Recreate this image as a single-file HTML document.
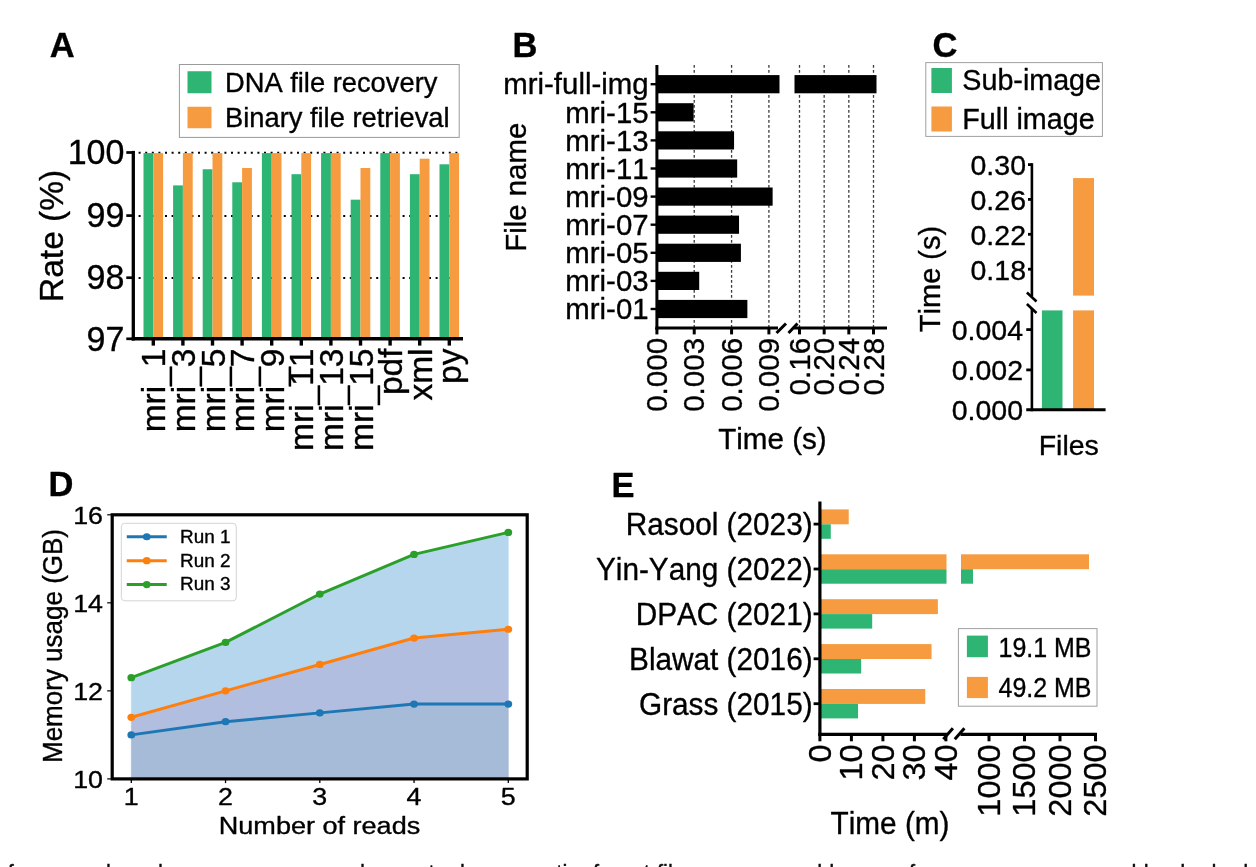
<!DOCTYPE html>
<html><head><meta charset="utf-8"><title>Figure</title>
<style>
html,body{margin:0;padding:0;background:#fff;overflow:hidden}
svg{display:block;font-family:"Liberation Sans",sans-serif;font-kerning:none}
text{stroke:#000;stroke-width:0.35px;stroke-linejoin:round}
</style></head>
<body>
<svg width="1256" height="867" viewBox="0 0 1256 867">
<defs><filter id="soft" x="0" y="0" width="100%" height="100%" filterUnits="userSpaceOnUse"><feGaussianBlur stdDeviation="0.45"/></filter></defs>
<rect x="0" y="0" width="1256" height="867" fill="#fff"/>
<g filter="url(#soft)">
<rect x="-10" y="-10" width="1276" height="900" fill="#fff"/>
<text transform="translate(49.80 56.50)" font-size="34.5" text-anchor="start" font-weight="bold" fill="#000" >A</text>
<text transform="translate(512.50 56.70)" font-size="34.5" text-anchor="start" font-weight="bold" fill="#000" >B</text>
<text transform="translate(932.40 57.00)" font-size="34.5" text-anchor="start" font-weight="bold" fill="#000" >C</text>
<text transform="translate(48.50 495.80)" font-size="34.5" text-anchor="start" font-weight="bold" fill="#000" >D</text>
<text transform="translate(611.40 497.20)" font-size="34.5" text-anchor="start" font-weight="bold" fill="#000" >E</text>
<line x1="138.60" y1="152.80" x2="459.00" y2="152.80" stroke="#000" stroke-width="2" stroke-dasharray="2 4.6"/>
<line x1="138.60" y1="215.90" x2="459.00" y2="215.90" stroke="#000" stroke-width="2" stroke-dasharray="2 4.6"/>
<line x1="138.60" y1="278.00" x2="459.00" y2="278.00" stroke="#000" stroke-width="2" stroke-dasharray="2 4.6"/>
<rect x="143.50" y="153.10" width="9.80" height="185.70" fill="#2db473" />
<rect x="153.30" y="153.10" width="9.80" height="185.70" fill="#f79b3f" />
<rect x="173.10" y="185.39" width="9.80" height="153.41" fill="#2db473" />
<rect x="182.90" y="153.10" width="9.80" height="185.70" fill="#f79b3f" />
<rect x="202.70" y="169.25" width="9.80" height="169.55" fill="#2db473" />
<rect x="212.50" y="153.10" width="9.80" height="185.70" fill="#f79b3f" />
<rect x="232.30" y="182.29" width="9.80" height="156.51" fill="#2db473" />
<rect x="242.10" y="168.00" width="9.80" height="170.80" fill="#f79b3f" />
<rect x="261.90" y="153.10" width="9.80" height="185.70" fill="#2db473" />
<rect x="271.70" y="153.10" width="9.80" height="185.70" fill="#f79b3f" />
<rect x="291.50" y="174.21" width="9.80" height="164.59" fill="#2db473" />
<rect x="301.30" y="153.10" width="9.80" height="185.70" fill="#f79b3f" />
<rect x="321.10" y="153.10" width="9.80" height="185.70" fill="#2db473" />
<rect x="330.90" y="153.10" width="9.80" height="185.70" fill="#f79b3f" />
<rect x="350.70" y="199.68" width="9.80" height="139.12" fill="#2db473" />
<rect x="360.50" y="168.00" width="9.80" height="170.80" fill="#f79b3f" />
<rect x="380.30" y="153.10" width="9.80" height="185.70" fill="#2db473" />
<rect x="390.10" y="153.10" width="9.80" height="185.70" fill="#f79b3f" />
<rect x="409.90" y="174.21" width="9.80" height="164.59" fill="#2db473" />
<rect x="419.70" y="158.69" width="9.80" height="180.11" fill="#f79b3f" />
<rect x="439.50" y="164.28" width="9.80" height="174.52" fill="#2db473" />
<rect x="449.30" y="153.10" width="9.80" height="185.70" fill="#f79b3f" />
<line x1="133.30" y1="150.90" x2="133.30" y2="340.50" stroke="#000" stroke-width="3.3" />
<line x1="131.70" y1="338.80" x2="463.00" y2="338.80" stroke="#000" stroke-width="3.5" />
<line x1="126.30" y1="152.50" x2="133.30" y2="152.50" stroke="#000" stroke-width="2.7" />
<text transform="translate(124.40 163.70) scale(1 1.05)" font-size="34" text-anchor="end" fill="#000" >100</text>
<line x1="126.30" y1="215.60" x2="133.30" y2="215.60" stroke="#000" stroke-width="2.7" />
<text transform="translate(124.40 227.20) scale(1 1.05)" font-size="34" text-anchor="end" fill="#000" >99</text>
<line x1="126.30" y1="277.70" x2="133.30" y2="277.70" stroke="#000" stroke-width="2.7" />
<text transform="translate(124.40 289.30) scale(1 1.05)" font-size="34" text-anchor="end" fill="#000" >98</text>
<line x1="126.30" y1="338.80" x2="133.30" y2="338.80" stroke="#000" stroke-width="2.7" />
<text transform="translate(124.40 351.40) scale(1 1.05)" font-size="34" text-anchor="end" fill="#000" >97</text>
<line x1="153.30" y1="338.80" x2="153.30" y2="345.60" stroke="#000" stroke-width="3.4" />
<text transform="translate(165.30 348.50) rotate(-90)" font-size="33.5" text-anchor="end" fill="#000" >mri_1</text>
<line x1="182.90" y1="338.80" x2="182.90" y2="345.60" stroke="#000" stroke-width="3.4" />
<text transform="translate(194.90 348.50) rotate(-90)" font-size="33.5" text-anchor="end" fill="#000" >mri_3</text>
<line x1="212.50" y1="338.80" x2="212.50" y2="345.60" stroke="#000" stroke-width="3.4" />
<text transform="translate(224.50 348.50) rotate(-90)" font-size="33.5" text-anchor="end" fill="#000" >mri_5</text>
<line x1="242.10" y1="338.80" x2="242.10" y2="345.60" stroke="#000" stroke-width="3.4" />
<text transform="translate(254.10 348.50) rotate(-90)" font-size="33.5" text-anchor="end" fill="#000" >mri_7</text>
<line x1="271.70" y1="338.80" x2="271.70" y2="345.60" stroke="#000" stroke-width="3.4" />
<text transform="translate(283.70 348.50) rotate(-90)" font-size="33.5" text-anchor="end" fill="#000" >mri_9</text>
<line x1="301.30" y1="338.80" x2="301.30" y2="345.60" stroke="#000" stroke-width="3.4" />
<text transform="translate(313.30 348.50) rotate(-90)" font-size="33.5" text-anchor="end" fill="#000" >mri_11</text>
<line x1="330.90" y1="338.80" x2="330.90" y2="345.60" stroke="#000" stroke-width="3.4" />
<text transform="translate(342.90 348.50) rotate(-90)" font-size="33.5" text-anchor="end" fill="#000" >mri_13</text>
<line x1="360.50" y1="338.80" x2="360.50" y2="345.60" stroke="#000" stroke-width="3.4" />
<text transform="translate(372.50 348.50) rotate(-90)" font-size="33.5" text-anchor="end" fill="#000" >mri_15</text>
<line x1="390.10" y1="338.80" x2="390.10" y2="345.60" stroke="#000" stroke-width="3.4" />
<text transform="translate(402.10 348.50) rotate(-90)" font-size="33.5" text-anchor="end" fill="#000" >pdf</text>
<line x1="419.70" y1="338.80" x2="419.70" y2="345.60" stroke="#000" stroke-width="3.4" />
<text transform="translate(431.70 348.50) rotate(-90)" font-size="33.5" text-anchor="end" fill="#000" >xml</text>
<line x1="449.30" y1="338.80" x2="449.30" y2="345.60" stroke="#000" stroke-width="3.4" />
<text transform="translate(461.30 348.50) rotate(-90)" font-size="33.5" text-anchor="end" fill="#000" >py</text>
<text transform="translate(63.00 302.00) rotate(-90)" font-size="33.5" text-anchor="start" fill="#000" >Rate (%)</text>
<rect x="179.40" y="64.50" width="279.80" height="72.90" fill="#fff" stroke="#9a9a9a" stroke-width="1"/>
<rect x="187.50" y="71.25" width="24.00" height="22.00" fill="#2db473" />
<rect x="187.50" y="106.75" width="24.00" height="21.50" fill="#f79b3f" />
<text transform="translate(225.00 92.00)" font-size="27.3" text-anchor="start" fill="#000" >DNA file recovery</text>
<text transform="translate(225.00 127.00)" font-size="27.3" text-anchor="start" fill="#000" >Binary file retrieval</text>
<line x1="694.23" y1="65.00" x2="694.23" y2="327.90" stroke="#3a3a3a" stroke-width="1.3" stroke-dasharray="2.8 2.2"/>
<line x1="731.57" y1="65.00" x2="731.57" y2="327.90" stroke="#3a3a3a" stroke-width="1.3" stroke-dasharray="2.8 2.2"/>
<line x1="768.90" y1="65.00" x2="768.90" y2="327.90" stroke="#3a3a3a" stroke-width="1.3" stroke-dasharray="2.8 2.2"/>
<line x1="799.50" y1="65.00" x2="799.50" y2="327.90" stroke="#3a3a3a" stroke-width="1.3" stroke-dasharray="2.8 2.2"/>
<line x1="824.17" y1="65.00" x2="824.17" y2="327.90" stroke="#3a3a3a" stroke-width="1.3" stroke-dasharray="2.8 2.2"/>
<line x1="848.83" y1="65.00" x2="848.83" y2="327.90" stroke="#3a3a3a" stroke-width="1.3" stroke-dasharray="2.8 2.2"/>
<line x1="873.50" y1="65.00" x2="873.50" y2="327.90" stroke="#3a3a3a" stroke-width="1.3" stroke-dasharray="2.8 2.2"/>
<rect x="656.90" y="75.10" width="122.60" height="18.20" fill="#000" />
<rect x="794.50" y="75.10" width="82.00" height="18.20" fill="#000" />
<line x1="650.60" y1="84.20" x2="656.90" y2="84.20" stroke="#000" stroke-width="2.4" />
<text transform="translate(648.60 94.40)" font-size="29.4" text-anchor="end" fill="#000" >mri-full-img</text>
<rect x="656.90" y="103.20" width="36.71" height="18.20" fill="#000" />
<line x1="650.60" y1="112.30" x2="656.90" y2="112.30" stroke="#000" stroke-width="2.4" />
<text transform="translate(648.60 122.50)" font-size="29.4" text-anchor="end" fill="#000" >mri-15</text>
<rect x="656.90" y="131.30" width="77.16" height="18.20" fill="#000" />
<line x1="650.60" y1="140.40" x2="656.90" y2="140.40" stroke="#000" stroke-width="2.4" />
<text transform="translate(648.60 150.60)" font-size="29.4" text-anchor="end" fill="#000" >mri-13</text>
<rect x="656.90" y="159.40" width="80.27" height="18.20" fill="#000" />
<line x1="650.60" y1="168.50" x2="656.90" y2="168.50" stroke="#000" stroke-width="2.4" />
<text transform="translate(648.60 178.70)" font-size="29.4" text-anchor="end" fill="#000" >mri-11</text>
<rect x="656.90" y="187.50" width="115.73" height="18.20" fill="#000" />
<line x1="650.60" y1="196.60" x2="656.90" y2="196.60" stroke="#000" stroke-width="2.4" />
<text transform="translate(648.60 206.80)" font-size="29.4" text-anchor="end" fill="#000" >mri-09</text>
<rect x="656.90" y="215.60" width="82.13" height="18.20" fill="#000" />
<line x1="650.60" y1="224.70" x2="656.90" y2="224.70" stroke="#000" stroke-width="2.4" />
<text transform="translate(648.60 234.90)" font-size="29.4" text-anchor="end" fill="#000" >mri-07</text>
<rect x="656.90" y="243.70" width="84.00" height="18.20" fill="#000" />
<line x1="650.60" y1="252.80" x2="656.90" y2="252.80" stroke="#000" stroke-width="2.4" />
<text transform="translate(648.60 263.00)" font-size="29.4" text-anchor="end" fill="#000" >mri-05</text>
<rect x="656.90" y="271.80" width="42.31" height="18.20" fill="#000" />
<line x1="650.60" y1="280.90" x2="656.90" y2="280.90" stroke="#000" stroke-width="2.4" />
<text transform="translate(648.60 291.10)" font-size="29.4" text-anchor="end" fill="#000" >mri-03</text>
<rect x="656.90" y="299.90" width="90.47" height="18.20" fill="#000" />
<line x1="650.60" y1="309.00" x2="656.90" y2="309.00" stroke="#000" stroke-width="2.4" />
<text transform="translate(648.60 319.20)" font-size="29.4" text-anchor="end" fill="#000" >mri-01</text>
<line x1="656.90" y1="65.00" x2="656.90" y2="329.40" stroke="#000" stroke-width="3" />
<line x1="655.40" y1="327.90" x2="778.00" y2="327.90" stroke="#000" stroke-width="3" />
<line x1="794.00" y1="327.90" x2="887.00" y2="327.90" stroke="#000" stroke-width="3" />
<line x1="776.50" y1="333.00" x2="786.00" y2="323.50" stroke="#000" stroke-width="3" />
<line x1="788.50" y1="333.00" x2="797.50" y2="323.50" stroke="#000" stroke-width="3" />
<line x1="656.90" y1="327.90" x2="656.90" y2="334.40" stroke="#000" stroke-width="3" />
<text transform="translate(666.90 337.80) rotate(-90)" font-size="29.6" text-anchor="end" fill="#000" >0.000</text>
<line x1="694.23" y1="327.90" x2="694.23" y2="334.40" stroke="#000" stroke-width="3" />
<text transform="translate(704.23 337.80) rotate(-90)" font-size="29.6" text-anchor="end" fill="#000" >0.003</text>
<line x1="731.57" y1="327.90" x2="731.57" y2="334.40" stroke="#000" stroke-width="3" />
<text transform="translate(741.57 337.80) rotate(-90)" font-size="29.6" text-anchor="end" fill="#000" >0.006</text>
<line x1="768.90" y1="327.90" x2="768.90" y2="334.40" stroke="#000" stroke-width="3" />
<text transform="translate(778.90 337.80) rotate(-90)" font-size="29.6" text-anchor="end" fill="#000" >0.009</text>
<line x1="799.50" y1="327.90" x2="799.50" y2="334.40" stroke="#000" stroke-width="3" />
<text transform="translate(809.50 337.80) rotate(-90)" font-size="29.6" text-anchor="end" fill="#000" >0.16</text>
<line x1="824.17" y1="327.90" x2="824.17" y2="334.40" stroke="#000" stroke-width="3" />
<text transform="translate(834.17 337.80) rotate(-90)" font-size="29.6" text-anchor="end" fill="#000" >0.20</text>
<line x1="848.83" y1="327.90" x2="848.83" y2="334.40" stroke="#000" stroke-width="3" />
<text transform="translate(858.83 337.80) rotate(-90)" font-size="29.6" text-anchor="end" fill="#000" >0.24</text>
<line x1="873.50" y1="327.90" x2="873.50" y2="334.40" stroke="#000" stroke-width="3" />
<text transform="translate(883.50 337.80) rotate(-90)" font-size="29.6" text-anchor="end" fill="#000" >0.28</text>
<text transform="translate(772.40 449.40)" font-size="29.6" text-anchor="middle" fill="#000" >Time (s)</text>
<text transform="translate(525.60 187.30) rotate(-90)" font-size="29.4" text-anchor="middle" fill="#000" >File name</text>
<rect x="925.80" y="62.60" width="176.60" height="73.80" fill="#fff" stroke="#a0a0a0" stroke-width="1"/>
<rect x="931.40" y="68.00" width="20.50" height="25.00" fill="#2db473" />
<rect x="931.40" y="106.50" width="20.50" height="25.00" fill="#f79b3f" />
<text transform="translate(962.30 89.80)" font-size="28.7" text-anchor="start" fill="#000" >Sub-image</text>
<text transform="translate(962.30 128.80)" font-size="28.7" text-anchor="start" fill="#000" >Full image</text>
<rect x="1041.90" y="310.40" width="20.60" height="99.35" fill="#2db473" />
<rect x="1073.10" y="178.10" width="20.90" height="117.50" fill="#f79b3f" />
<rect x="1073.10" y="310.40" width="20.90" height="99.35" fill="#f79b3f" />
<line x1="1031.90" y1="163.20" x2="1031.90" y2="296.50" stroke="#000" stroke-width="2.6" />
<line x1="1031.90" y1="308.50" x2="1031.90" y2="411.25" stroke="#000" stroke-width="2.6" />
<line x1="1026.25" y1="409.75" x2="1105.60" y2="409.75" stroke="#000" stroke-width="3.2" />
<line x1="1026.90" y1="292.50" x2="1036.50" y2="301.50" stroke="#000" stroke-width="2.6" />
<line x1="1026.90" y1="304.00" x2="1036.50" y2="313.00" stroke="#000" stroke-width="2.6" />
<line x1="1028.00" y1="164.60" x2="1031.90" y2="164.60" stroke="#000" stroke-width="2.8" />
<text transform="translate(1026.00 174.90)" font-size="28.5" text-anchor="end" fill="#000" >0.30</text>
<line x1="1028.00" y1="199.40" x2="1031.90" y2="199.40" stroke="#000" stroke-width="2.8" />
<text transform="translate(1026.00 209.70)" font-size="28.5" text-anchor="end" fill="#000" >0.26</text>
<line x1="1028.00" y1="234.30" x2="1031.90" y2="234.30" stroke="#000" stroke-width="2.8" />
<text transform="translate(1026.00 244.60)" font-size="28.5" text-anchor="end" fill="#000" >0.22</text>
<line x1="1028.00" y1="269.20" x2="1031.90" y2="269.20" stroke="#000" stroke-width="2.8" />
<text transform="translate(1026.00 279.50)" font-size="28.5" text-anchor="end" fill="#000" >0.18</text>
<line x1="1026.25" y1="329.60" x2="1031.90" y2="329.60" stroke="#000" stroke-width="2.8" />
<text transform="translate(1023.00 339.90)" font-size="28.5" text-anchor="end" fill="#000" >0.004</text>
<line x1="1026.25" y1="369.90" x2="1031.90" y2="369.90" stroke="#000" stroke-width="2.8" />
<text transform="translate(1023.00 380.20)" font-size="28.5" text-anchor="end" fill="#000" >0.002</text>
<text transform="translate(1023.00 420.05)" font-size="28.5" text-anchor="end" fill="#000" >0.000</text>
<text transform="translate(1068.75 454.75)" font-size="28.5" text-anchor="middle" fill="#000" >Files</text>
<text transform="translate(940.00 225.80) rotate(-90)" font-size="29" text-anchor="end" fill="#000" >Time (s)</text>
<polygon points="131.30,677.66 225.55,642.45 319.80,594.03 414.05,554.41 508.30,532.41 508.30,629.24 414.05,638.05 319.80,664.46 225.55,690.87 131.30,717.28" fill="#b6d6ee" stroke="#b6d6ee" stroke-width="0.6"/>
<polygon points="131.30,717.28 225.55,690.87 319.80,664.46 414.05,638.05 508.30,629.24 508.30,704.07 414.05,704.07 319.80,712.88 225.55,721.68 131.30,734.88" fill="#b2bedf" stroke="#b2bedf" stroke-width="0.6"/>
<polygon points="131.30,734.88 225.55,721.68 319.80,712.88 414.05,704.07 508.30,704.07 508.30,778.9 131.30,778.9" fill="#a5bbd8" stroke="#a5bbd8" stroke-width="0.6"/>
<polyline points="131.30,734.88 225.55,721.68 319.80,712.88 414.05,704.07 508.30,704.07" fill="none" stroke="#1f77b4" stroke-width="3" stroke-linejoin="round"/>
<ellipse cx="131.30" cy="734.88" rx="3.9" ry="3.6" fill="#1f77b4"/>
<ellipse cx="225.55" cy="721.68" rx="3.9" ry="3.6" fill="#1f77b4"/>
<ellipse cx="319.80" cy="712.88" rx="3.9" ry="3.6" fill="#1f77b4"/>
<ellipse cx="414.05" cy="704.07" rx="3.9" ry="3.6" fill="#1f77b4"/>
<ellipse cx="508.30" cy="704.07" rx="3.9" ry="3.6" fill="#1f77b4"/>
<polyline points="131.30,717.28 225.55,690.87 319.80,664.46 414.05,638.05 508.30,629.24" fill="none" stroke="#ff7f0e" stroke-width="3" stroke-linejoin="round"/>
<ellipse cx="131.30" cy="717.28" rx="3.9" ry="3.6" fill="#ff7f0e"/>
<ellipse cx="225.55" cy="690.87" rx="3.9" ry="3.6" fill="#ff7f0e"/>
<ellipse cx="319.80" cy="664.46" rx="3.9" ry="3.6" fill="#ff7f0e"/>
<ellipse cx="414.05" cy="638.05" rx="3.9" ry="3.6" fill="#ff7f0e"/>
<ellipse cx="508.30" cy="629.24" rx="3.9" ry="3.6" fill="#ff7f0e"/>
<polyline points="131.30,677.66 225.55,642.45 319.80,594.03 414.05,554.41 508.30,532.41" fill="none" stroke="#2ca02c" stroke-width="3" stroke-linejoin="round"/>
<ellipse cx="131.30" cy="677.66" rx="3.9" ry="3.6" fill="#2ca02c"/>
<ellipse cx="225.55" cy="642.45" rx="3.9" ry="3.6" fill="#2ca02c"/>
<ellipse cx="319.80" cy="594.03" rx="3.9" ry="3.6" fill="#2ca02c"/>
<ellipse cx="414.05" cy="554.41" rx="3.9" ry="3.6" fill="#2ca02c"/>
<ellipse cx="508.30" cy="532.41" rx="3.9" ry="3.6" fill="#2ca02c"/>
<rect x="112.2" y="514.8" width="415.00" height="264.10" fill="none" stroke="#000" stroke-width="3.2"/>
<line x1="131.30" y1="778.90" x2="131.30" y2="783.10" stroke="#000" stroke-width="1.3" />
<text transform="translate(131.30 804.80) scale(1.09 1)" font-size="24.6" text-anchor="middle" fill="#000" >1</text>
<line x1="225.55" y1="778.90" x2="225.55" y2="783.10" stroke="#000" stroke-width="1.3" />
<text transform="translate(225.55 804.80) scale(1.09 1)" font-size="24.6" text-anchor="middle" fill="#000" >2</text>
<line x1="319.80" y1="778.90" x2="319.80" y2="783.10" stroke="#000" stroke-width="1.3" />
<text transform="translate(319.80 804.80) scale(1.09 1)" font-size="24.6" text-anchor="middle" fill="#000" >3</text>
<line x1="414.05" y1="778.90" x2="414.05" y2="783.10" stroke="#000" stroke-width="1.3" />
<text transform="translate(414.05 804.80) scale(1.09 1)" font-size="24.6" text-anchor="middle" fill="#000" >4</text>
<line x1="508.30" y1="778.90" x2="508.30" y2="783.10" stroke="#000" stroke-width="1.3" />
<text transform="translate(508.30 804.80) scale(1.09 1)" font-size="24.6" text-anchor="middle" fill="#000" >5</text>
<line x1="107.20" y1="778.90" x2="112.20" y2="778.90" stroke="#000" stroke-width="1.2" />
<text transform="translate(103.00 788.10) scale(1.09 1)" font-size="24.6" text-anchor="end" fill="#000" >10</text>
<line x1="107.20" y1="690.87" x2="112.20" y2="690.87" stroke="#000" stroke-width="1.2" />
<text transform="translate(103.00 700.07) scale(1.09 1)" font-size="24.6" text-anchor="end" fill="#000" >12</text>
<line x1="107.20" y1="602.83" x2="112.20" y2="602.83" stroke="#000" stroke-width="1.2" />
<text transform="translate(103.00 612.03) scale(1.09 1)" font-size="24.6" text-anchor="end" fill="#000" >14</text>
<line x1="107.20" y1="514.80" x2="112.20" y2="514.80" stroke="#000" stroke-width="1.2" />
<text transform="translate(103.00 524.00) scale(1.09 1)" font-size="24.6" text-anchor="end" fill="#000" >16</text>
<text transform="translate(319.50 833.80) scale(1.1 1)" font-size="24.6" text-anchor="middle" fill="#000" >Number of reads</text>
<text transform="translate(62.30 646.00) scale(1.06 1) rotate(-90)" font-size="26" text-anchor="middle" fill="#000" >Memory usage (GB)</text>
<rect x="121.3" y="523.3" width="115" height="77.5" rx="3.5" fill="#fff" fill-opacity="0.8" stroke="#d4d4d4" stroke-width="1"/>
<line x1="126.75" y1="536.75" x2="166.75" y2="536.75" stroke="#1f77b4" stroke-width="3" />
<ellipse cx="146.75" cy="536.75" rx="3.9" ry="3.6" fill="#1f77b4"/>
<text transform="translate(180.00 542.65) scale(1.08 1)" font-size="17.5" text-anchor="start" fill="#000" >Run 1</text>
<line x1="126.75" y1="560.65" x2="166.75" y2="560.65" stroke="#ff7f0e" stroke-width="3" />
<ellipse cx="146.75" cy="560.65" rx="3.9" ry="3.6" fill="#ff7f0e"/>
<text transform="translate(180.00 566.55) scale(1.08 1)" font-size="17.5" text-anchor="start" fill="#000" >Run 2</text>
<line x1="126.75" y1="584.55" x2="166.75" y2="584.55" stroke="#2ca02c" stroke-width="3" />
<ellipse cx="146.75" cy="584.55" rx="3.9" ry="3.6" fill="#2ca02c"/>
<text transform="translate(180.00 590.45) scale(1.08 1)" font-size="17.5" text-anchor="start" fill="#000" >Run 3</text>
<rect x="819.90" y="509.40" width="28.82" height="14.90" fill="#f79b3f" />
<rect x="819.90" y="524.30" width="10.87" height="14.50" fill="#2db473" />
<line x1="813.60" y1="524.10" x2="819.90" y2="524.10" stroke="#000" stroke-width="2.8" />
<text transform="translate(812.60 535.30) scale(0.96 1)" font-size="31" text-anchor="end" fill="#000" >Rasool (2023)</text>
<rect x="819.90" y="554.30" width="126.60" height="14.90" fill="#f79b3f" />
<rect x="961.00" y="554.30" width="128.00" height="14.90" fill="#f79b3f" />
<rect x="819.90" y="569.20" width="126.60" height="14.50" fill="#2db473" />
<rect x="961.00" y="569.20" width="12.00" height="14.50" fill="#2db473" />
<line x1="813.60" y1="569.00" x2="819.90" y2="569.00" stroke="#000" stroke-width="2.8" />
<text transform="translate(812.60 580.20) scale(0.96 1)" font-size="31" text-anchor="end" fill="#000" >Yin-Yang (2022)</text>
<rect x="819.90" y="599.20" width="117.97" height="14.90" fill="#f79b3f" />
<rect x="819.90" y="614.10" width="52.29" height="14.50" fill="#2db473" />
<line x1="813.60" y1="613.90" x2="819.90" y2="613.90" stroke="#000" stroke-width="2.8" />
<text transform="translate(812.60 625.10) scale(0.96 1)" font-size="31" text-anchor="end" fill="#000" >DPAC (2021)</text>
<rect x="819.90" y="644.10" width="111.67" height="14.90" fill="#f79b3f" />
<rect x="819.90" y="659.00" width="41.26" height="14.50" fill="#2db473" />
<line x1="813.60" y1="658.80" x2="819.90" y2="658.80" stroke="#000" stroke-width="2.8" />
<text transform="translate(812.60 670.00) scale(0.96 1)" font-size="31" text-anchor="end" fill="#000" >Blawat (2016)</text>
<rect x="819.90" y="689.00" width="105.37" height="14.90" fill="#f79b3f" />
<rect x="819.90" y="703.90" width="38.12" height="14.50" fill="#2db473" />
<line x1="813.60" y1="703.70" x2="819.90" y2="703.70" stroke="#000" stroke-width="2.8" />
<text transform="translate(812.60 714.90) scale(0.96 1)" font-size="31" text-anchor="end" fill="#000" >Grass (2015)</text>
<line x1="819.90" y1="501.50" x2="819.90" y2="735.90" stroke="#000" stroke-width="3.2" />
<line x1="818.30" y1="734.30" x2="947.00" y2="734.30" stroke="#000" stroke-width="3.2" />
<line x1="960.50" y1="734.30" x2="1097.00" y2="734.30" stroke="#000" stroke-width="3.2" />
<line x1="943.30" y1="739.20" x2="952.90" y2="728.30" stroke="#000" stroke-width="3" />
<line x1="954.80" y1="739.20" x2="964.40" y2="728.30" stroke="#000" stroke-width="3" />
<line x1="819.90" y1="734.30" x2="819.90" y2="741.30" stroke="#000" stroke-width="3" />
<text transform="translate(830.50 744.40) scale(0.94 1) rotate(-90)" font-size="32.5" text-anchor="end" fill="#000" >0</text>
<line x1="851.40" y1="734.30" x2="851.40" y2="741.30" stroke="#000" stroke-width="3" />
<text transform="translate(862.00 744.40) scale(0.94 1) rotate(-90)" font-size="32.5" text-anchor="end" fill="#000" >10</text>
<line x1="882.90" y1="734.30" x2="882.90" y2="741.30" stroke="#000" stroke-width="3" />
<text transform="translate(893.50 744.40) scale(0.94 1) rotate(-90)" font-size="32.5" text-anchor="end" fill="#000" >20</text>
<line x1="914.40" y1="734.30" x2="914.40" y2="741.30" stroke="#000" stroke-width="3" />
<text transform="translate(925.00 744.40) scale(0.94 1) rotate(-90)" font-size="32.5" text-anchor="end" fill="#000" >30</text>
<line x1="945.90" y1="734.30" x2="945.90" y2="741.30" stroke="#000" stroke-width="3" />
<text transform="translate(956.50 744.40) scale(0.94 1) rotate(-90)" font-size="32.5" text-anchor="end" fill="#000" >40</text>
<line x1="989.00" y1="734.30" x2="989.00" y2="741.30" stroke="#000" stroke-width="3" />
<text transform="translate(999.60 744.40) scale(0.94 1) rotate(-90)" font-size="32.5" text-anchor="end" fill="#000" >1000</text>
<line x1="1024.50" y1="734.30" x2="1024.50" y2="741.30" stroke="#000" stroke-width="3" />
<text transform="translate(1035.10 744.40) scale(0.94 1) rotate(-90)" font-size="32.5" text-anchor="end" fill="#000" >1500</text>
<line x1="1060.00" y1="734.30" x2="1060.00" y2="741.30" stroke="#000" stroke-width="3" />
<text transform="translate(1070.60 744.40) scale(0.94 1) rotate(-90)" font-size="32.5" text-anchor="end" fill="#000" >2000</text>
<line x1="1095.50" y1="734.30" x2="1095.50" y2="741.30" stroke="#000" stroke-width="3" />
<text transform="translate(1106.10 744.40) scale(0.94 1) rotate(-90)" font-size="32.5" text-anchor="end" fill="#000" >2500</text>
<text transform="translate(890.00 834.00) scale(0.96 1)" font-size="31" text-anchor="middle" fill="#000" >Time (m)</text>
<rect x="958.40" y="628.60" width="138.60" height="77.60" fill="#fff" stroke="#a0a0a0" stroke-width="1"/>
<rect x="966.90" y="635.60" width="21.00" height="21.60" fill="#2db473" />
<rect x="966.90" y="676.90" width="21.00" height="21.20" fill="#f79b3f" />
<text transform="translate(998.50 656.90) scale(0.895 1)" font-size="27.9" text-anchor="start" fill="#000" >19.1 MB</text>
<text transform="translate(998.50 696.90) scale(0.895 1)" font-size="27.9" text-anchor="start" fill="#000" >49.2 MB</text>
<text y="879.6" font-size="22" fill="#111"><tspan x="7.7">formance </tspan><tspan x="106">by </tspan><tspan x="158">how </tspan><tspan x="203">many </tspan><tspan x="262">more </tspan><tspan x="328.3">and </tspan><tspan x="372">more </tspan><tspan x="428.5">to </tspan><tspan x="460">be </tspan><tspan x="492">runs </tspan><tspan x="556.3">tie </tspan><tspan x="593">for </tspan><tspan x="631.4">at </tspan><tspan x="657">files </tspan><tspan x="712">or more </tspan><tspan x="805">old </tspan><tspan x="845">users </tspan><tspan x="909">for </tspan><tspan x="945">memory usage </tspan><tspan x="1098">on </tspan><tspan x="1131.5">bland </tspan><tspan x="1211.5">had </tspan></text>
</g>
</svg>
</body></html>
